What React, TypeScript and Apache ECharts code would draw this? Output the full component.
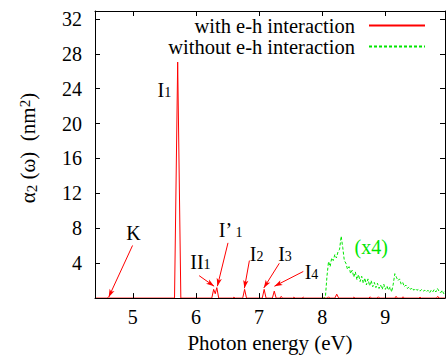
import React, { useEffect, useRef } from 'react';
import * as echarts from 'echarts';

const FONT = 'Liberation Serif';
const RED = '#ff0000';
const GREEN = '#00e600';

const seriesNames = ['with e-h interaction', 'without e-h interaction'];

// with e-h interaction (red)
const redX = [4.40, 4.58, 4.60, 4.62, 5.66, 5.71, 5.76, 6.25, 6.28, 6.305, 6.33, 6.36, 6.58, 6.60, 6.62,
  6.74, 6.77, 6.80, 7.05, 7.08, 7.11, 7.21, 7.24, 7.27, 7.33, 7.35, 7.37, 7.53, 7.55, 7.57, 7.68, 7.70, 7.72,
  8.08, 8.10, 8.12, 8.20, 8.23, 8.26, 8.48, 8.50, 8.52, 8.74, 8.76, 8.78, 8.87, 8.89, 8.91, 9.15, 9.17, 9.19,
  9.26, 9.28, 9.30, 9.53, 9.55, 9.57, 9.81, 9.83, 9.85, 9.95];
const redY = [0, 0, 0.05, 0, 0, 27.05, 0, 0, 1.0, 0.5, 1.2, 0, 0, 0.1, 0,
  0, 1.0, 0, 0, 1.0, 0, 0, 0.8, 0, 0, 0.2, 0, 0, 0.1, 0, 0, 0.1, 0,
  0, 0.15, 0, 0, 0.45, 0, 0, 0.1, 0, 0, 0.15, 0, 0, 0.15, 0, 0, 0.2, 0,
  0, 0.15, 0, 0, 0.1, 0, 0, 0.2, 0, 0];

// without e-h interaction (green, x4)
const greenX = [8.000, 8.025, 8.050, 8.075, 8.100, 8.125, 8.150, 8.175, 8.200, 8.225, 8.250, 8.275, 8.300,
  8.325, 8.350, 8.375, 8.400, 8.425, 8.450, 8.475, 8.500, 8.525, 8.550, 8.575, 8.600, 8.625, 8.650, 8.675,
  8.700, 8.725, 8.750, 8.775, 8.800, 8.825, 8.850, 8.875, 8.900, 8.925, 8.950, 8.975, 9.000, 9.025, 9.050,
  9.075, 9.100, 9.125, 9.150, 9.175, 9.200, 9.225, 9.250, 9.275, 9.300, 9.325, 9.350, 9.375, 9.400, 9.425,
  9.450, 9.475, 9.500, 9.525, 9.550, 9.575, 9.600, 9.625, 9.650, 9.675, 9.700, 9.725, 9.750, 9.775, 9.800,
  9.825, 9.850, 9.875, 9.900, 9.925, 9.950];
const greenY = [0, 0, 0.1, 2.5, 4.2, 3.6, 4.6, 4.3, 5.0, 4.6, 5.3, 5.6, 7.1,
  5.8, 4.3, 4.0, 3.3, 3.6, 2.8, 3.2, 2.4, 3.0, 2.1, 2.7, 1.9, 2.5, 1.7, 2.3,
  1.5, 2.2, 1.4, 2.0, 1.3, 1.8, 1.2, 1.7, 1.1, 1.5, 1.0, 1.6, 1.0, 1.4, 0.9,
  1.3, 0.7, 1.6, 2.8, 2.4, 2.0, 2.2, 1.6, 1.8, 1.3, 1.5, 1.1, 1.3, 1.0, 1.2,
  0.9, 1.1, 0.9, 1.0, 0.8, 1.0, 0.8, 0.9, 0.7, 0.9, 0.6, 0.9, 0.7, 1.0, 0.7,
  1.1, 0.8, 0.6, 0.9, 0.5, 0.8];

// Peak labels: [text (rich), x, y]
const peakLabels: [string, number, number][] = [
  ['{m|K}', 5.01, 7.43],
  ['{m|I}{s|1}', 5.50, 23.85],
  ['{m|II}{s|1}', 6.07, 4.18],
  ['{m|I’}{s| 1}', 6.55, 7.85],
  ['{m|I}{s|2}', 6.96, 5.09],
  ['{m|I}{s|3}', 7.41, 5.09],
  ['{m|I}{s|4}', 7.83, 3.0],
];
// Arrows: [x0, y0, x1, y1]
const arrows: [number, number, number, number][] = [
  [4.995, 6.03, 4.617, 0.11],
  [6.05, 2.57, 6.287, 1.36],
  [6.507, 6.33, 6.339, 1.36],
  [6.846, 4.30, 6.767, 1.13],
  [7.32, 3.99, 7.074, 1.16],
  [7.70, 3.05, 7.243, 1.36],
];
const scaleNote = ['(x4)', 8.775, 5.88] as const;

const X_MIN = 4.4;
const X_MAX = 9.945;
const Y_MAX = 32.9;

export default function App() {
  const ref = useRef<HTMLDivElement>(null);
  useEffect(() => {
    if (!ref.current) return;
    const chart = echarts.init(ref.current, undefined, { renderer: 'svg' });
    const txt = (size: number, color = '#000') => ({ fontFamily: FONT, fontSize: size, color });
    const richMain = {
      m: { ...txt(20), lineHeight: 20, verticalAlign: 'middle' as const },
      s: { ...txt(14), lineHeight: 10, verticalAlign: 'bottom' as const },
    };
    const axisCommon = {
      axisLine: { show: true, onZero: false, lineStyle: { color: '#000', width: 1 } },
      axisTick: { show: true, inside: true, length: 5, lineStyle: { color: '#000' } },
      splitLine: { show: false },
    };
    const legendCommon = {
      right: 22, orient: 'vertical', align: 'right',
      itemWidth: 56, itemHeight: 10, padding: 0, selectedMode: false,
      itemStyle: { opacity: 0 },
      textStyle: { ...txt(20.5), padding: [0, 9, 0, 0] },
    };
    chart.setOption({
      animation: false,
      textStyle: { fontFamily: FONT, color: '#000' },
      grid: { left: 95, top: 11, right: 1, bottom: 56 },
      legend: [
        { ...legendCommon, data: [seriesNames[0]], top: 15 },
        { ...legendCommon, data: [seriesNames[1]], top: 36 },
      ],
      xAxis: [
        {
          type: 'value', min: X_MIN, max: X_MAX, position: 'bottom', z: 5,
          ...axisCommon,
          axisLabel: {
            margin: 9, ...txt(20),
            formatter: (v: number) => (Number.isInteger(v) ? String(v) : ''),
          },
          name: 'Photon energy (eV)', nameLocation: 'middle', nameGap: 33,
          nameTextStyle: txt(21),
        },
        {
          type: 'value', min: X_MIN, max: X_MAX, position: 'top', z: 5,
          ...axisCommon,
          axisLabel: { show: false },
        },
      ],
      yAxis: [
        {
          type: 'value', min: 0, max: Y_MAX, interval: 4, position: 'left', z: 5,
          ...axisCommon,
          axisLabel: {
            margin: 13, ...txt(20),
            formatter: (v: number) => (v > 0 && v % 4 === 0 ? String(v) : ''),
          },
          name: '{a|α}{s|2}{a| (ω)  (nm}{p|2}{a|)}', nameLocation: 'middle', nameRotate: 90, nameGap: 56,
          nameTextStyle: {
            padding: [0, 0, 0, 13],
            rich: {
              a: { ...txt(21), lineHeight: 22, verticalAlign: 'middle' },
              s: { ...txt(15), lineHeight: 10, verticalAlign: 'bottom' },
              p: { ...txt(15), lineHeight: 10, verticalAlign: 'top' },
            },
          },
        },
        {
          type: 'value', min: 0, max: Y_MAX, interval: 4, position: 'right', z: 5,
          ...axisCommon,
          axisLabel: { show: false },
        },
      ],
      series: [
        {
          name: seriesNames[0], type: 'line', xAxisIndex: 0, yAxisIndex: 0,
          data: redX.map((x, i) => [x, redY[i]]),
          symbol: 'none', z: 3,
          lineStyle: { color: RED, width: 1 }, itemStyle: { color: RED },
          markLine: {
            silent: true, symbol: ['none', 'arrow'], symbolSize: [4, 8],
            lineStyle: { color: RED, width: 1, type: 'solid' },
            label: { show: false },
            data: arrows.map(([x0, y0, x1, y1]) => [{ coord: [x0, y0] }, { coord: [x1, y1] }]),
          },
          markPoint: {
            silent: true, symbol: 'circle', symbolSize: 0,
            label: { show: true, position: 'inside', rich: richMain },
            data: peakLabels.map(([t, x, y]) => ({ coord: [x, y], label: { formatter: t } })),
          },
        },
        {
          name: seriesNames[1], type: 'line', xAxisIndex: 0, yAxisIndex: 0,
          data: greenX.map((x, i) => [x, greenY[i]]),
          symbol: 'none', z: 2,
          lineStyle: { color: GREEN, width: 1, type: [3, 2] }, itemStyle: { color: GREEN },
          markPoint: {
            silent: true, symbol: 'circle', symbolSize: 0,
            label: { show: true, position: 'inside', ...txt(20, GREEN) },
            data: [{ coord: [scaleNote[1], scaleNote[2]], label: { formatter: scaleNote[0] } }],
          },
        },
      ],
    });
    return () => chart.dispose();
  }, []);
  return <div ref={ref} style={{ width: 448, height: 358, position: 'absolute', left: 0, top: 0 }} />;
}
